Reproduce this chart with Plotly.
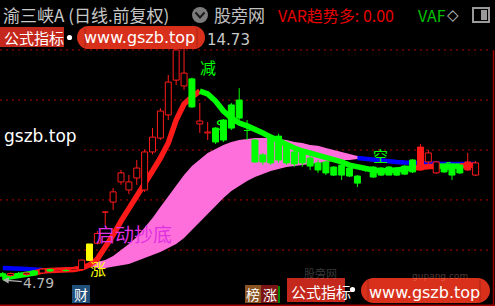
import plotly.graph_objects as go

W, H = 495, 306
CJK = "Noto Sans CJK SC"
LAT = "DejaVu Sans"

# ---------------- data ----------------
bars = list(range(61))
opens = [5.05, 4.98, 5.06, 5.02, 5.16, 5.08, 5.22, 5.16, 5.20, 5.18,
         5.22, 5.60, 6.30, 7.58, 7.99, 8.82, 8.49, 8.98, 8.49, 10.05,
         10.62, 11.57, 13.00, 12.76, 13.05, 11.20, 10.83, 11.03, 11.36, 11.98,
         12.18, 10.95, 10.54, 9.93, 10.62, 10.70, 10.30, 10.05, 10.01, 9.80,
         9.60, 9.64, 9.43, 9.51, 9.39, 9.06, 9.39, 9.43, 9.39, 9.43,
         9.39, 9.47, 9.72, 9.31, 9.64, 9.19, 9.51, 9.47, 9.51, 9.31,
         9.10]
highs = [5.12, 5.10, 5.12, 5.10, 5.20, 5.28, 5.26, 5.24, 5.24, 5.26,
         5.63, 6.27, 6.80, 7.62, 8.57, 9.31, 9.11, 9.72, 10.15, 11.03,
         11.85, 13.21, 14.55, 14.73, 13.10, 12.06, 11.28, 11.07, 11.40, 12.06,
         12.67, 11.36, 10.58, 10.00, 10.79, 10.80, 10.40, 10.13, 10.05, 9.93,
         9.72, 9.68, 9.47, 9.55, 9.43, 9.10, 9.43, 9.47, 9.43, 9.47,
         9.43, 9.51, 9.76, 10.38, 10.13, 9.68, 9.55, 9.51, 9.55, 10.01,
         9.68]
lows = [4.79, 4.92, 5.00, 4.96, 4.98, 5.05, 5.12, 5.12, 5.14, 5.14,
        5.20, 5.58, 6.25, 7.05, 7.67, 8.70, 8.32, 8.70, 8.40, 9.95,
        10.54, 11.36, 12.80, 12.60, 11.85, 10.83, 10.54, 10.38, 10.46, 10.95,
        11.36, 10.54, 9.60, 9.52, 9.52, 9.60, 9.52, 9.44, 9.44, 9.31,
        9.19, 9.10, 9.06, 8.90, 9.02, 8.61, 9.23, 8.98, 9.06, 9.10,
        9.06, 9.10, 9.19, 9.27, 9.51, 9.14, 9.19, 8.90, 9.14, 9.27,
        9.06]
closes = [4.95, 5.06, 5.02, 5.08, 5.00, 5.24, 5.16, 5.20, 5.18, 5.24,
          5.61, 6.27, 6.70, 7.60, 8.41, 9.19, 8.82, 9.39, 10.05, 10.66,
          11.73, 12.92, 14.24, 13.29, 11.90, 11.32, 10.87, 10.46, 10.54, 11.03,
          11.44, 10.93, 9.64, 9.64, 9.60, 9.72, 9.60, 9.56, 9.60, 9.47,
          9.31, 9.19, 9.10, 9.10, 9.06, 8.77, 9.31, 9.02, 9.10, 9.10,
          9.10, 9.14, 9.23, 10.25, 10.01, 9.64, 9.23, 9.10, 9.19, 9.64,
          9.60]
# g = filled green, r = hollow red, R = filled red, y = filled yellow
candle_style = "grgrgrgrgrr" + "y" + "r" * 12 + "g" + "rr" + "g" * 26 + "R" + "rr" + "ggg" + "R" + "r"

trend = [4.87, 4.91, 4.96, 5.00, 5.08, 5.16, 5.18, 5.18, 5.20, 5.22,
         5.28, 5.41, 5.65, 6.11, 6.64, 7.21, 7.75, 8.24, 8.74, 9.27,
         9.80, 10.42, 11.36, 12.02, 12.31, 12.55, 12.43, 12.14, 11.73, 11.44,
         11.24, 11.12, 10.99, 10.83, 10.66, 10.50, 10.34, 10.21, 10.09, 10.01,
         9.93, 9.80, 9.72, 9.64, 9.51, 9.43, 9.35, 9.31, 9.27, 9.27,
         9.31, 9.35, 9.39, 9.43, 9.47, 9.47, 9.47, 9.47, 9.47, 9.51,
         9.51]
trend_state = "gggg" + "r" * 21 + "g" * 27 + "rrr" + "ggg" + "rrr"

base_left_bars = bars[0:6]
base_left = [5.28, 5.28, 5.26, 5.24, 5.22, 5.20]
base_right_bars = bars[45:61]
base_right = [9.80, 9.76, 9.72, 9.70, 9.68, 9.64, 9.62, 9.60, 9.60, 9.60,
              9.58, 9.56, 9.56, 9.56, 9.56, 9.56]

band_bars = bars[11:47]
band_upper = [5.37, 5.53, 5.61, 5.78, 6.02, 6.27, 6.56, 6.93, 7.34, 7.79,
              8.24, 8.69, 9.10, 9.47, 9.76, 10.01, 10.17, 10.34, 10.46, 10.54,
              10.58, 10.62, 10.62, 10.62, 10.58, 10.54, 10.46, 10.42, 10.34, 10.30,
              10.21, 10.13, 10.05, 9.97, 9.88, 9.80]
band_lower = [5.37, 5.28, 5.28, 5.33, 5.37, 5.45, 5.57, 5.70, 5.82, 5.94,
              6.11, 6.27, 6.52, 6.85, 7.17, 7.54, 7.87, 8.16, 8.45, 8.65,
              8.86, 9.02, 9.14, 9.27, 9.35, 9.43, 9.47, 9.51, 9.56, 9.60,
              9.64, 9.68, 9.72, 9.72, 9.76, 9.76]

grid_levels = [6.02, 8.08, 10.13, 12.18, 14.24]

# ---------------- colours ----------------
RED, GREEN, BLUE, YEL, PINK = "#ff1a1a", "#00ff00", "#0000ff", "#ffff00", "#ff6fdc"
STYLE = {"g": (GREEN, GREEN), "r": (RED, "#000000"), "R": (RED, RED), "y": (YEL, YEL)}


def px(x):
    return x / W


def py(y):
    return 1 - y / H


fig = go.Figure()

# pink band
fig.add_trace(go.Scatter(x=band_bars, y=band_upper, mode="lines",
                         line=dict(width=0, color=PINK), hoverinfo="skip"))
fig.add_trace(go.Scatter(x=band_bars, y=band_lower, mode="lines", fill="tonexty",
                         fillcolor=PINK, line=dict(width=0, color=PINK), hoverinfo="skip"))

# blue base line
for bx, by in ((base_left_bars, base_left), (base_right_bars, base_right)):
    fig.add_trace(go.Scatter(x=bx, y=by, mode="lines", line=dict(color=BLUE, width=4.5),
                             hoverinfo="skip"))

# trend line, coloured by state
seg_start = 0
for i in range(1, len(bars)):
    if i == len(bars) - 1 or trend_state[i] != trend_state[seg_start]:
        end = i
        col = RED if trend_state[seg_start] == "r" else GREEN
        fig.add_trace(go.Scatter(x=bars[seg_start:end + 1], y=trend[seg_start:end + 1],
                                 mode="lines", line=dict(color=col, width=5.5),
                                 hoverinfo="skip"))
        seg_start = i

# candles: wicks then bodies
half = 0.38
for key, (edge, fill) in STYLE.items():
    wx, wy, bx, byy = [], [], [], []
    for i in bars:
        if candle_style[i] != key:
            continue
        wx += [i, i, None]
        wy += [lows[i], highs[i], None]
        lo, hi = min(opens[i], closes[i]), max(opens[i], closes[i])
        bx += [i - half, i + half, i + half, i - half, i - half, None]
        byy += [lo, lo, hi, hi, lo, None]
    if not wx:
        continue
    fig.add_trace(go.Scatter(x=wx, y=wy, mode="lines", line=dict(color=edge, width=1),
                             hoverinfo="skip"))
    fig.add_trace(go.Scatter(x=bx, y=byy, mode="lines", fill="toself", fillcolor=fill,
                             line=dict(color=edge, width=1), hoverinfo="skip"))

shapes = []
# dotted grid
for lv in grid_levels:
    shapes.append(dict(type="line", xref="paper", yref="y", x0=0, x1=px(488), y0=lv, y1=lv,
                       line=dict(color="#b40000", width=1, dash="2px,4px"), layer="below"))
# black label box on the left
shapes.append(dict(type="rect", xref="paper", yref="paper", x0=0, x1=px(84), y0=py(158), y1=py(118),
                   fillcolor="#000000", line=dict(width=0), layer="below"))
# frame
shapes.append(dict(type="line", xref="paper", yref="paper", x0=px(493.5), x1=px(493.5), y0=py(50), y1=0,
                   line=dict(color="#a00000", width=1.5)))
shapes.append(dict(type="line", xref="paper", yref="paper", x0=0, x1=1, y0=py(305.2), y1=py(305.2),
                   line=dict(color="#a00000", width=1.5)))


def rect(x0, y0, x1, y1, fill, line_col=None, lw=0):
    shapes.append(dict(type="rect", xref="paper", yref="paper", x0=px(x0), x1=px(x1), y0=py(y1), y1=py(y0),
                       fillcolor=fill, line=dict(width=lw, color=line_col or fill), layer="above"))


def circle(cx, cy, r, fill):
    shapes.append(dict(type="circle", xref="paper", yref="paper", x0=px(cx - r), x1=px(cx + r),
                       y0=py(cy + r), y1=py(cy - r), fillcolor=fill, line=dict(width=0), layer="above"))


def pill(x0, y0, x1, y1, fill):
    r = (y1 - y0) / 2
    rect(x0 + r, y0, x1 - r, y1, fill)
    circle(x0 + r, y0 + r, r, fill)
    circle(x1 - r, y0 + r, r, fill)


def vline(x, y0, y1, col, w=1):
    shapes.append(dict(type="line", xref="paper", yref="paper", x0=px(x), x1=px(x), y0=py(y1), y1=py(y0),
                       line=dict(color=col, width=w), layer="above"))


# header widgets
circle(200, 15, 8, "#7c7c7c")
shapes.append(dict(type="path", xref="paper", yref="paper",
                   path=f"M {px(195.5)} {py(12.5)} L {px(200)} {py(17.5)} L {px(204.5)} {py(12.5)}",
                   line=dict(color="#1a1a1a", width=2), layer="above"))
rect(473, 8, 489, 22, "rgba(0,0,0,0)", "#9a9a9a", 2)
rect(481, 10, 487, 20, "#9a9a9a")

# top banner
rect(0, 27, 64, 47, "#c4281c")
circle(69.5, 37.5, 2.6, "#ffffff")
pill(77, 26, 205, 49, "#d9301c")
vline(85, 28, 47, "#a82214")
vline(197, 28, 47, "#a82214")

# bottom badges / banner
rect(72, 285, 90, 303, "#1f4f7a")
rect(245, 285, 261, 303, "#8a5522")
rect(261, 285, 278, 303, "#7c1414")
vline(279, 286, 303, "#00b000", 1.5)
rect(287, 278, 345, 302, "#c4281c")
circle(352.5, 289.5, 2.6, "#ffffff")
pill(361, 278, 490, 303, "#d9301c")
vline(368, 280, 301, "#a82214")
vline(480, 280, 301, "#a82214")

ann = []


def label(text, x, y, size, color, family=CJK, xanchor="left", opacity=1.0):
    ann.append(dict(text=text, x=px(x), y=py(y), xref="paper", yref="paper", showarrow=False,
                    xanchor=xanchor, yanchor="middle", opacity=opacity,
                    font=dict(size=size, color=color, family=family)))


label("渝三峡A (日线.前复权)", 1, 14.5, 17, "#c8c8c8")
label("股旁网", 212, 14.5, 17, "#c0c0c0")
label("VAR趋势多: 0.00", 276, 14.5, 16, "#e60000")
label("VAF", 416, 14.5, 16, "#00c000")
label("◇", 445, 14.5, 15, "#c0c0c0", LAT)

label("公式指标", 2, 37, 15, "#ffffff")
label("www.gszb.top", 139, 37.5, 16, "#ffffff", LAT, "center")
label(f"{max(highs):.2f}", 205, 40, 15, "#c8c8c8", LAT)

label("gszb.top", 2, 136, 17, "#ffffff", LAT)

label("减", 198, 67, 16, GREEN)
label("S", 220, 125, 14, GREEN, LAT, "center")
label("空", 380, 155, 15, GREEN, CJK, "center")
label("S", 448, 166, 10, GREEN, LAT, "center")
label("启动抄底", 134, 234, 19, "#e030e0", CJK, "center")
label("涨", 98, 268, 16, YEL, CJK, "center")

# lowest price marker with arrow pointing to the low
low_i = lows.index(min(lows))
ann.append(dict(text=f"{min(lows):.2f}", x=bars[low_i], y=min(lows), xref="x", yref="y",
                showarrow=True, ax=36, ay=3, arrowhead=2, arrowsize=1, arrowwidth=1.2,
                arrowcolor="#b0b0b0", font=dict(size=14, color="#b8b8b8", family=LAT)))

label("财", 81, 294, 14, "#ffffff", CJK, "center")
label("榜", 253, 294, 14, "#ffffff", CJK, "center")
label("涨", 269.5, 294, 14, "#ffffff", CJK, "center")
label("股旁网", 320, 273, 11, "#9a9a9a", CJK, "center", 0.35)
label("公式指标", 289, 291, 15, "#ffffff")
label("gupang.com", 440, 275.5, 9, "#ffb0a0", LAT, "center", 0.3)
label("www.gszb.top", 424, 292, 16, "#ffffff", LAT, "center")

fig.update_layout(
    width=W, height=H, margin=dict(l=0, r=0, t=0, b=0, pad=0),
    paper_bgcolor="#000000", plot_bgcolor="#000000", showlegend=False,
    xaxis=dict(range=[-0.355, 62.46], visible=False, fixedrange=True),
    yaxis=dict(range=[3.724, 16.29], visible=False, fixedrange=True),
    shapes=shapes, annotations=ann,
)

fig.write_html("out.html", config={"displayModeBar": False})
